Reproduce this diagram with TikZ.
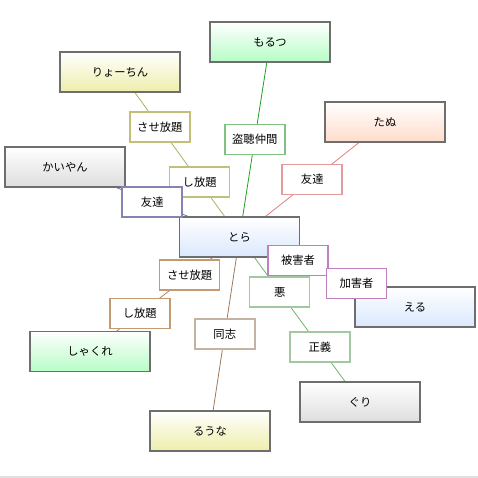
\documentclass[tikz,border=0pt]{standalone}
\usepackage{fontspec}
\newfontfamily\jp{Noto Sans CJK JP}
\usetikzlibrary{calc,backgrounds}
\definecolor{nborder}{HTML}{6E6E6E}
\definecolor{cyellow}{HTML}{EEEEAC}
\definecolor{cgreen}{HTML}{B6FDC6}
\definecolor{cgray}{HTML}{DEDEDE}
\definecolor{csalmon}{HTML}{FFDCCB}
\definecolor{cblue}{HTML}{DAE8FD}
\definecolor{eolive}{HTML}{B0B060}
\definecolor{lolive}{HTML}{C0C078}
\definecolor{epurple}{HTML}{6E6EA0}
\definecolor{lpurple}{HTML}{8484B4}
\definecolor{egreen}{HTML}{20A020}
\definecolor{lgreen}{HTML}{80C080}
\definecolor{epink}{HTML}{E08080}
\definecolor{lpink}{HTML}{E49A9A}
\definecolor{ebrown}{HTML}{B08860}
\definecolor{lbrown}{HTML}{C49A72}
\definecolor{etan}{HTML}{A07858}
\definecolor{ltan}{HTML}{C4B2A2}
\definecolor{emag}{HTML}{C080C0}
\definecolor{lmag}{HTML}{C080C0}
\definecolor{egreen2}{HTML}{70B070}
\definecolor{lgreen2}{HTML}{A2C8A2}
\tikzset{
  person/.style={draw=nborder, line width=1.8pt, minimum width=120pt, minimum height=40pt,
    inner sep=0pt, font=\jp\fontsize{11.3}{12}\selectfont, top color=white, bottom color=#1},
  lab/.style={draw=#1, fill=white, line width=1.6pt, minimum width=60pt, minimum height=30pt,
    inner sep=0pt, font=\jp\fontsize{11.3}{12}\selectfont},
  edge/.style={draw=#1, line width=0.8pt}
}
\begin{document}
\begin{tikzpicture}[x=1pt,y=-1pt]
\useasboundingbox (0,0) rectangle (478,478);
\draw[draw=black!12, line width=1.5pt] (0,477) coordinate (bl) -- (478,477) coordinate (br);
% persons
\node[person=cyellow] (ryo) at (120,72) {りょーちん};
\node[person=cgray] (kai) at (65,167) {かいやん};
\node[person=cgreen] (mor) at (270,42) {もるつ};
\node[person=csalmon] (tan) at (385,122) {たぬ};
\node[person=cblue] (tora) at (239.5,237) {とら};
\node[person=cblue] (eru) at (415,307) {える};
\node[person=cgray] (guri) at (360,402) {ぐり};
\node[person=cyellow] (runa) at (210,431) {るうな};
\node[person=cgreen] (sha) at (90,351.5) {しゃくれ};
% edges
\begin{pgfonlayer}{background}
\draw[edge=eolive] (ryo.center) -- (tora.center);
\draw[edge=epurple] (kai.center) -- (tora.center);
\draw[edge=egreen] (mor.center) -- (tora.center);
\draw[edge=epink] (tan.center) -- (tora.center);
\draw[edge=ebrown] (sha.center) -- (tora.center);
\draw[edge=etan] (runa.center) -- (tora.center);
\draw[edge=emag] (eru.center) -- (tora.center);
\draw[edge=egreen2] (guri.center) -- (tora.center);
\end{pgfonlayer}
% labels
\node[lab=lolive] (l1) at ($(ryo.center)!1/3!(tora.center)$) {させ放題};
\node[lab=lolive] (l2) at ($(ryo.center)!2/3!(tora.center)$) {し放題};
\node[lab=lpurple] (l3) at ($(kai.center)!0.5!(tora.center)$) {友達};
\node[lab=lgreen] (l4) at ($(mor.center)!0.5!(tora.center)$) {盗聴仲間};
\node[lab=lpink] (l5) at ($(tan.center)!0.5!(tora.center)$) {友達};
\node[lab=lbrown] (l6) at ($(sha.center)!1/3!(tora.center)$) {し放題};
\node[lab=lbrown] (l7) at ($(sha.center)!2/3!(tora.center)$) {させ放題};
\node[lab=ltan] (l8) at ($(runa.center)!0.5!(tora.center)$) {同志};
\node[lab=lgreen2] (l9) at ($(tora.center)!1/3!(guri.center)$) {悪};
\node[lab=lgreen2] (l10) at ($(tora.center)!2/3!(guri.center)$) {正義};
\node[lab=lmag] (l11) at ($(tora.center)!1/3!(eru.center)$) {被害者};
\node[lab=lmag] (l12) at ($(tora.center)!2/3!(eru.center)$) {加害者};
\end{tikzpicture}
\end{document}
